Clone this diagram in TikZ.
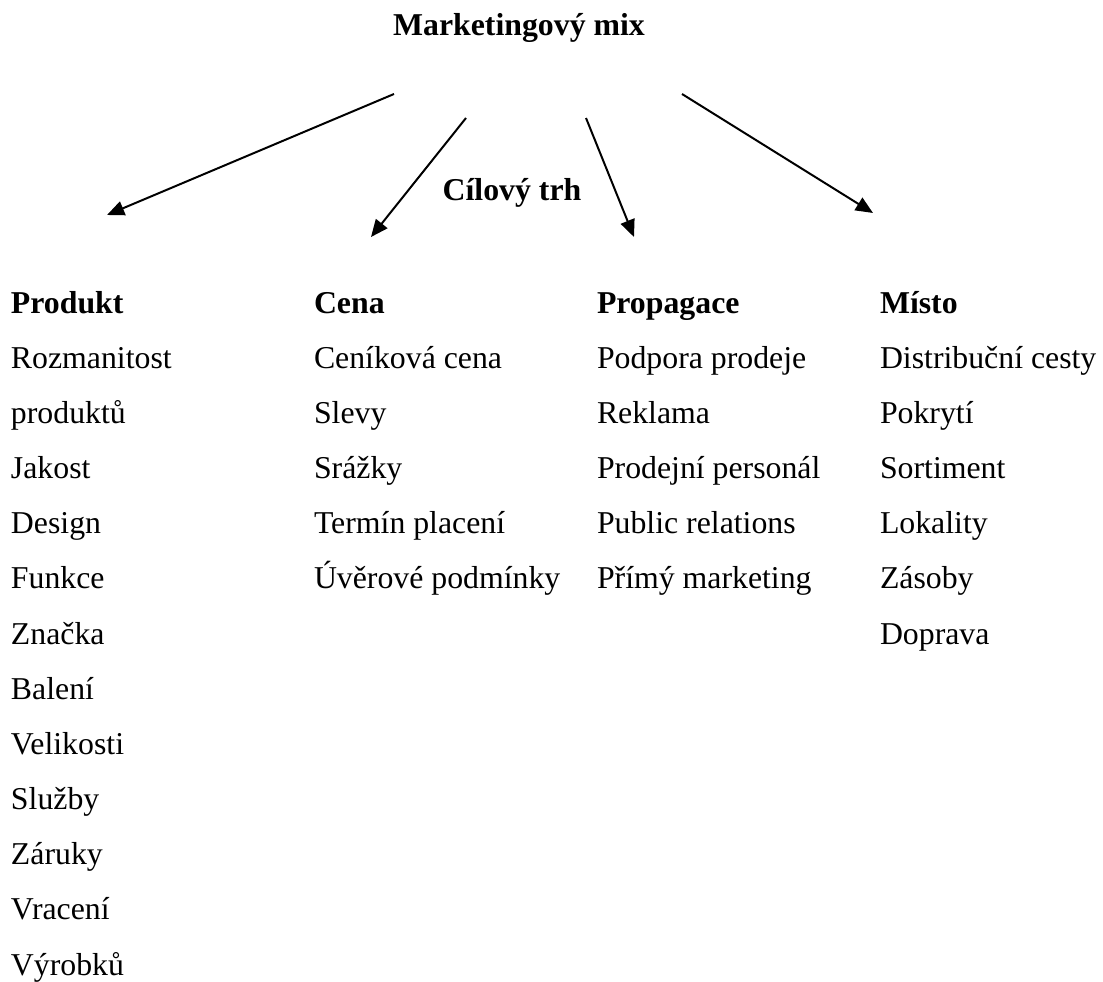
\documentclass[tikz,border=0pt]{standalone}
\usepackage{fontspec}
\setmainfont{Liberation Serif}
\usetikzlibrary{arrows.meta}

\begin{document}
\begin{tikzpicture}[x=0.3774pt,y=-0.3774pt,>={Triangle[length=6.5pt,width=5.5pt]},
  line width=0.75pt,font=\fontsize{12}{14}\selectfont,
  kopf/.style={anchor=base west,inner sep=0pt,font=\fontsize{12}{14}\selectfont\bfseries},
  eintrag/.style={anchor=base west,inner sep=0pt}]

\useasboundingbox (0,0) rectangle (1103,981);

% Ueberschriften
\node[kopf,anchor=base] (mix) at (519,36) {Marketingový mix};
\node[kopf,anchor=base] (trh) at (512,201) {Cílový trh};

% Pfeile
\coordinate (a1) at (394,94);
\coordinate (b1) at (107,215);
\coordinate (a2) at (466,118);
\coordinate (b2) at (371,237);
\coordinate (a3) at (586,118);
\coordinate (b3) at (634,237);
\coordinate (a4) at (682,94);
\coordinate (b4) at (873,213);

\draw[->] (a1)--(b1);
\draw[->] (a2)--(b2);
\draw[->] (a3)--(b3);
\draw[->] (a4)--(b4);

% Spalte Produkt
\node[kopf] (produkt) at (10,313) {Produkt};
\node[eintrag] (p1) at (10,368) {Rozmanitost};
\node[eintrag] (p2) at (10,423) {produktů};
\node[eintrag] (p3) at (10,478) {Jakost};
\node[eintrag] (p4) at (10,533) {Design};
\node[eintrag] (p5) at (10,588) {Funkce};
\node[eintrag] (p6) at (10,644) {Značka};
\node[eintrag] (p7) at (10,699) {Balení};
\node[eintrag] (p8) at (10,754) {Velikosti};
\node[eintrag] (p9) at (10,809) {Služby};
\node[eintrag] (p10) at (10,864) {Záruky};
\node[eintrag] (p11) at (10,919) {Vracení};
\node[eintrag] (p12) at (10,975) {Výrobků};

% Spalte Cena
\node[kopf] (cena) at (313,313) {Cena};
\node[eintrag] (c1) at (313,368) {Ceníková cena};
\node[eintrag] (c2) at (313,423) {Slevy};
\node[eintrag] (c3) at (313,478) {Srážky};
\node[eintrag] (c4) at (313,533) {Termín placení};
\node[eintrag] (c5) at (313,588) {Úvěrové podmínky};

% Spalte Propagace
\node[kopf] (propagace) at (596,313) {Propagace};
\node[eintrag] (r1) at (596,368) {Podpora prodeje};
\node[eintrag] (r2) at (596,423) {Reklama};
\node[eintrag] (r3) at (596,478) {Prodejní personál};
\node[eintrag] (r4) at (596,533) {Public relations};
\node[eintrag] (r5) at (596,588) {Přímý marketing};

% Spalte Misto
\node[kopf] (misto) at (879,313) {Místo};
\node[eintrag] (m1) at (879,368) {Distribuční cesty};
\node[eintrag] (m2) at (879,423) {Pokrytí};
\node[eintrag] (m3) at (879,478) {Sortiment};
\node[eintrag] (m4) at (879,533) {Lokality};
\node[eintrag] (m5) at (879,588) {Zásoby};
\node[eintrag] (m6) at (879,644) {Doprava};

\end{tikzpicture}
\end{document}
